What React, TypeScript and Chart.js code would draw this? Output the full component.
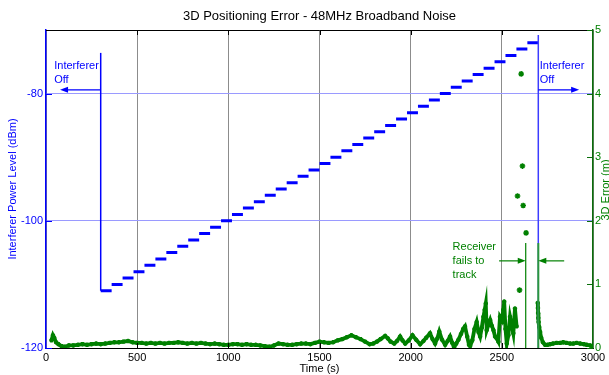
import React, { useEffect, useRef } from 'react';
import { Chart, registerables } from 'chart.js';

Chart.register(...registerables);

const chartTitle = '3D Positioning Error - 48MHz Broadband Noise';
const xTitle = 'Time (s)';
const yLeftTitle = 'Interferer Power Level (dBm)';
const yRightTitle = '3D Error (m)';

const xTickStep = 500;
const leftTicks = [-120, -100, -80];

// interferer staircase: each level held for 60 s
const stepDuration = 60;
const stepStarts = [
  300, 360, 420, 480, 540, 600, 660, 720, 780, 840,
  900, 960, 1020, 1080, 1140, 1200, 1260, 1320, 1380, 1440,
  1500, 1560, 1620, 1680, 1740, 1800, 1860, 1920, 1980, 2040,
  2100, 2160, 2220, 2280, 2340, 2400, 2460, 2520, 2580, 2640,
];
const stepLevels = [
  -111, -110, -109, -108, -107, -106, -105, -104, -103, -102,
  -101, -100, -99, -98, -97, -96, -95, -94, -93, -92,
  -91, -90, -89, -88, -87, -86, -85, -84, -83, -82,
  -81, -80, -79, -78, -77, -76, -75, -74, -73, -72,
];

// 3D error (m)
const errTimes = [
  30, 38, 45, 55, 68, 85, 104, 125, 150, 175,
  200, 225, 250, 275, 300, 325, 350, 375, 400, 425,
  450, 475, 500, 525, 550, 575, 600, 625, 650, 675,
  700, 725, 750, 775, 800, 825, 850, 875, 900, 925,
  950, 975, 1000, 1025, 1050, 1075, 1100, 1125, 1150, 1175,
  1200, 1225, 1250, 1275, 1300, 1325, 1350, 1375, 1400, 1425,
  1450, 1475, 1500, 1525, 1550, 1575, 1600, 1625, 1650, 1675,
  1700, 1725, 1750, 1775, 1795, 1815, 1835, 1860, 1875, 1890,
  1910, 1925, 1942, 1955, 1970, 1990, 2010, 2030, 2052, 2070,
  2085, 2106, 2120, 2134, 2146, 2157, 2172, 2189, 2203, 2216,
  2228, 2238, 2250, 2262, 2276, 2288, 2298, 2310, 2320, 2326,
  2338, 2350, 2362, 2372, 2381, 2390, 2399, 2406, 2412, 2417,
  2426, 2436, 2445, 2454, 2463, 2472, 2481, 2490, 2500, 2508,
  2513, 2520, 2527, 2536, 2545, 2554, 2563, 2572, 2581, 2585,
  2697, 2698, 2699, 2700, 2702, 2705, 2710, 2716, 2725, 2737,
  2750, 2765, 2780, 2800, 2820, 2837, 2855, 2875, 2892, 2910,
  2930, 2950, 2966, 2985, 2999,
];
const errValues = [
  0.12, 0.2, 0.16, 0.09, 0.06, 0.03, 0.02, 0.04, 0.04, 0.05,
  0.06, 0.05, 0.06, 0.07, 0.06, 0.07, 0.08, 0.09, 0.09, 0.1,
  0.11, 0.09, 0.08, 0.08, 0.07, 0.08, 0.07, 0.08, 0.07, 0.08,
  0.08, 0.09, 0.08, 0.07, 0.08, 0.07, 0.08, 0.07, 0.06, 0.07,
  0.06, 0.05, 0.05, 0.06, 0.06, 0.05, 0.06, 0.05, 0.05, 0.04,
  0.03, 0.02, 0.04, 0.07, 0.06, 0.05, 0.05, 0.06, 0.07, 0.07,
  0.06, 0.08, 0.1, 0.09, 0.08, 0.09, 0.12, 0.14, 0.17, 0.2,
  0.17, 0.14, 0.1, 0.06, 0.07, 0.1, 0.14, 0.19, 0.15, 0.1,
  0.07, 0.11, 0.18, 0.12, 0.07, 0.12, 0.2, 0.13, 0.06, 0.11,
  0.16, 0.23, 0.14, 0.07, 0.15, 0.26, 0.13, 0.05, 0.11, 0.18,
  0.08, 0.01, 0.07, 0.13, 0.22, 0.3, 0.34, 0.18, 0.05, 0.03,
  0.12, 0.3, 0.41, 0.25, 0.18, 0.32, 0.49, 0.6, 0.7, 0.28,
  0.36, 0.44, 0.35, 0.28, 0.18, 0.15, 0.1, 0.49, 0.44, 0.6,
  0.73, 0.3, 0.07, 0.2, 0.49, 0.36, 0.23, 0.62, 0.34, null,
  0.71, 0.63, 0.55, 0.47, 0.41, 0.33, 0.25, 0.16, 0.09, 0.05,
  0.05, 0.06, 0.07, 0.08, 0.08, 0.09, 0.08, 0.07, 0.07, 0.08,
  0.07, 0.06, 0.05, 0.04, 0.02,
];
const outlierTimes = [2586, 2597, 2606, 2613, 2617, 2633];
const outlierValues = [2.39, 0.91, 4.31, 2.86, 2.24, 1.81];

// annotation anchors (data units)
const interfererOnTime = 300;
const interfererOffTime = 2700;
const onLineTop = -73.6;
const offLineTop = -70.8;
const interfererArrowLevel = -79.4;
const leftArrowEnd = 77;
const rightArrowEnd = 2924;
const trackLossStart = 2631;
const trackLossEnd = 2700;
const trackLossTop = 1.65;
const trackArrowLevel = 1.37;
const trackArrowLeftStart = 2485;
const trackArrowRightStart = 2842;
const interfererLabel = ['Interferer', 'Off'];
const receiverLabel = ['Receiver', 'fails to', 'track'];

export default function App() {
  const ref = useRef<HTMLCanvasElement>(null);

  useEffect(() => {
    const canvas = ref.current as HTMLCanvasElement;
    const FONT = "'Liberation Sans', Arial, Helvetica, sans-serif";
    const BLUE = '#0000ff';
    const GREEN = '#008000';
    const AXGREEN = '#0a6e0a';

    const stairData: any[] = [];
    stepStarts.forEach((s, i) => {
      stairData.push({ x: s, y: stepLevels[i] });
      stairData.push({ x: s + stepDuration, y: stepLevels[i] });
      stairData.push({ x: s + stepDuration, y: null });
    });
    const errData = errTimes.map((t, i) => ({ x: t, y: errValues[i] }));
    const outData = outlierTimes.map((t, i) => ({ x: t, y: outlierValues[i] }));

    const arrow = (ctx: CanvasRenderingContext2D, x1: number, y: number, x2: number, color: string) => {
      const dir = Math.sign(x2 - x1);
      ctx.strokeStyle = color;
      ctx.fillStyle = color;
      ctx.lineWidth = 1.2;
      ctx.beginPath();
      ctx.moveTo(x1, y);
      ctx.lineTo(x2 - dir * 4, y);
      ctx.stroke();
      ctx.beginPath();
      ctx.moveTo(x2, y);
      ctx.lineTo(x2 - dir * 8, y - 3);
      ctx.lineTo(x2 - dir * 8, y + 3);
      ctx.closePath();
      ctx.fill();
    };
    const vline = (ctx: CanvasRenderingContext2D, x: number, y1: number, y2: number, color: string, w: number) => {
      ctx.strokeStyle = color;
      ctx.lineWidth = w;
      ctx.beginPath();
      ctx.moveTo(x, y1);
      ctx.lineTo(x, y2);
      ctx.stroke();
    };

    const overlay = {
      id: 'overlay',
      beforeDraw(chart: any) {
        const { ctx } = chart;
        ctx.save();
        ctx.fillStyle = '#ffffff';
        ctx.fillRect(0, 0, chart.width, chart.height);
        ctx.restore();
      },
      afterDatasetsDraw(chart: any) {
        const { ctx, chartArea: ca, scales } = chart;
        const sx = scales.x, yL = scales.yL, yR = scales.yR;
        ctx.save();
        // top frame
        ctx.strokeStyle = '#000';
        ctx.lineWidth = 1;
        ctx.beginPath();
        ctx.moveTo(ca.left, ca.top + 0.5);
        ctx.lineTo(ca.right, ca.top + 0.5);
        ctx.stroke();
        // inward ticks on x (top and bottom)
        for (let v = xTickStep; v < 3000; v += xTickStep) {
          const px = Math.round(sx.getPixelForValue(v)) + 0.5;
          vline(ctx, px, ca.top, ca.top + 5, '#000', 1);
          vline(ctx, px, ca.bottom, ca.bottom - 5, '#000', 1);
        }
        // inward ticks left
        ctx.strokeStyle = BLUE;
        leftTicks.forEach((v) => {
          const py = Math.round(yL.getPixelForValue(v)) + 0.5;
          ctx.lineWidth = 1;
          ctx.beginPath();
          ctx.moveTo(ca.left, py);
          ctx.lineTo(ca.left + 6, py);
          ctx.stroke();
        });
        // inward ticks right
        ctx.strokeStyle = AXGREEN;
        for (let v = 0; v <= 5; v++) {
          const py = Math.round(yR.getPixelForValue(v)) + 0.5;
          ctx.beginPath();
          ctx.moveTo(ca.right, py);
          ctx.lineTo(ca.right - 6, py);
          ctx.stroke();
        }

        // interferer on / off lines
        vline(ctx, sx.getPixelForValue(interfererOnTime), yL.getPixelForValue(stepLevels[0]), yL.getPixelForValue(onLineTop), BLUE, 1.5);
        vline(ctx, sx.getPixelForValue(interfererOffTime), yL.getPixelForValue(offLineTop), yL.getPixelForValue(-120), '#3c3cff', 1.5);
        // track loss lines
        vline(ctx, sx.getPixelForValue(trackLossStart), yR.getPixelForValue(trackLossTop), yR.getPixelForValue(0), GREEN, 1.2);
        vline(ctx, sx.getPixelForValue(trackLossEnd), yR.getPixelForValue(trackLossTop), yR.getPixelForValue(0), 'rgba(40,160,40,0.9)', 2);

        // arrows
        const ay = yL.getPixelForValue(interfererArrowLevel);
        arrow(ctx, sx.getPixelForValue(interfererOnTime), ay, sx.getPixelForValue(leftArrowEnd), BLUE);
        arrow(ctx, sx.getPixelForValue(interfererOffTime), ay, sx.getPixelForValue(rightArrowEnd), BLUE);
        const ty = yR.getPixelForValue(trackArrowLevel);
        arrow(ctx, sx.getPixelForValue(trackArrowLeftStart), ty, sx.getPixelForValue(trackLossStart), GREEN);
        arrow(ctx, sx.getPixelForValue(trackArrowRightStart), ty, sx.getPixelForValue(trackLossEnd), GREEN);

        // labels
        ctx.font = `11px ${FONT}`;
        ctx.textAlign = 'left';
        ctx.textBaseline = 'middle';
        ctx.fillStyle = BLUE;
        const l1 = yL.getPixelForValue(-75.66);
        const l2 = yL.getPixelForValue(-77.86);
        ctx.fillText(interfererLabel[0], sx.getPixelForValue(45), l1);
        ctx.fillText(interfererLabel[1], sx.getPixelForValue(45), l2);
        ctx.fillText(interfererLabel[0], sx.getPixelForValue(2708), l1);
        ctx.fillText(interfererLabel[1], sx.getPixelForValue(2708), l2);
        ctx.fillStyle = GREEN;
        const rl = [1.59, 1.37, 1.15];
        receiverLabel.forEach((t, i) => ctx.fillText(t, sx.getPixelForValue(2230), yR.getPixelForValue(rl[i])));
        ctx.restore();
      },
      afterDraw(chart: any) {
        const { ctx, chartArea: ca } = chart;
        ctx.save();
        ctx.textAlign = 'center';
        ctx.textBaseline = 'middle';
        ctx.fillStyle = '#000';
        ctx.font = `13px ${FONT}`;
        ctx.fillText(chartTitle, (ca.left + ca.right) / 2, 16.5);
        ctx.font = `11px ${FONT}`;
        ctx.fillText(xTitle, (ca.left + ca.right) / 2, 369);
        const cy = (ca.top + ca.bottom) / 2;
        ctx.save();
        ctx.translate(13, cy);
        ctx.rotate(-Math.PI / 2);
        ctx.fillStyle = BLUE;
        ctx.fillText(yLeftTitle, 0, 0);
        ctx.restore();
        ctx.save();
        ctx.translate(606, cy + 1);
        ctx.rotate(-Math.PI / 2);
        ctx.fillStyle = GREEN;
        ctx.fillText(yRightTitle, 0, 0);
        ctx.restore();
        ctx.restore();
      },
    };

    const chart = new Chart(canvas, {
      type: 'line',
      data: {
        datasets: [
          {
            label: 'Interferer',
            data: stairData,
            yAxisID: 'yL',
            borderColor: BLUE,
            backgroundColor: BLUE,
            borderWidth: 3,
            borderCapStyle: 'butt',
            pointRadius: 0,
            spanGaps: false,
            tension: 0,
          },
          {
            label: '3D Error',
            data: errData,
            yAxisID: 'yR',
            borderColor: GREEN,
            backgroundColor: GREEN,
            borderWidth: 3.8,
            pointRadius: 2.2,
            pointStyle: 'star',
            pointBorderColor: GREEN,
            pointBorderWidth: 1.5,
            spanGaps: false,
            tension: 0,
          },
          {
            label: 'Outliers',
            data: outData,
            yAxisID: 'yR',
            showLine: false,
            borderColor: GREEN,
            backgroundColor: GREEN,
            pointRadius: 2.8,
            pointStyle: 'star',
            pointBorderColor: GREEN,
            pointBorderWidth: 1.5,
          },
        ] as any,
      },
      options: {
        animation: false,
        responsive: false,
        devicePixelRatio: 1,
        layout: { padding: { top: 30, left: 0, right: 0, bottom: 0 } },
        plugins: {
          legend: { display: false },
          title: { display: false },
          tooltip: { enabled: false },
        },
        events: [],
        scales: {
          x: {
            type: 'linear',
            min: 0,
            max: 3000,
            ticks: {
              stepSize: xTickStep,
              color: '#000',
              font: { size: 11, family: FONT },
              padding: 3,
              maxRotation: 0,
              autoSkip: false,
              callback: (v: any) => String(v),
            },
            grid: { color: '#8c8c8c', lineWidth: 1, drawTicks: false },
            border: { color: '#000', width: 1 },
            afterFit(s: any) { s.height = 27; },
          },
          yL: {
            type: 'linear',
            position: 'left',
            min: -120,
            max: -70,
            afterBuildTicks(s: any) { s.ticks = leftTicks.map((v) => ({ value: v })); },
            ticks: { color: BLUE, font: { size: 11, family: FONT }, padding: 3, callback: (v: any) => String(v) },
            grid: {
              color: (c: any) => (c.tick && c.tick.value === -120 ? 'rgba(0,0,0,0)' : '#9a9aff'),
              lineWidth: 1,
              drawTicks: false,
            },
            border: { color: BLUE, width: 1.5 },
            afterFit(s: any) { s.width = 46; },
          },
          yR: {
            type: 'linear',
            position: 'right',
            min: 0,
            max: 5,
            ticks: { stepSize: 1, color: GREEN, font: { size: 11, family: FONT }, padding: 2 },
            grid: { color: 'rgba(0,0,0,0)', drawTicks: false },
            border: { color: AXGREEN, width: 1.5 },
            afterFit(s: any) { s.width = 16; },
          },
        },
      } as any,
      plugins: [overlay],
    });

    return () => chart.destroy();
  }, []);

  return (
    <div style={{ position: 'absolute', left: 0, top: 0, width: 609, height: 375, background: '#fff' }}>
      <canvas ref={ref} width={609} height={375} style={{ display: 'block' }} />
    </div>
  );
}
